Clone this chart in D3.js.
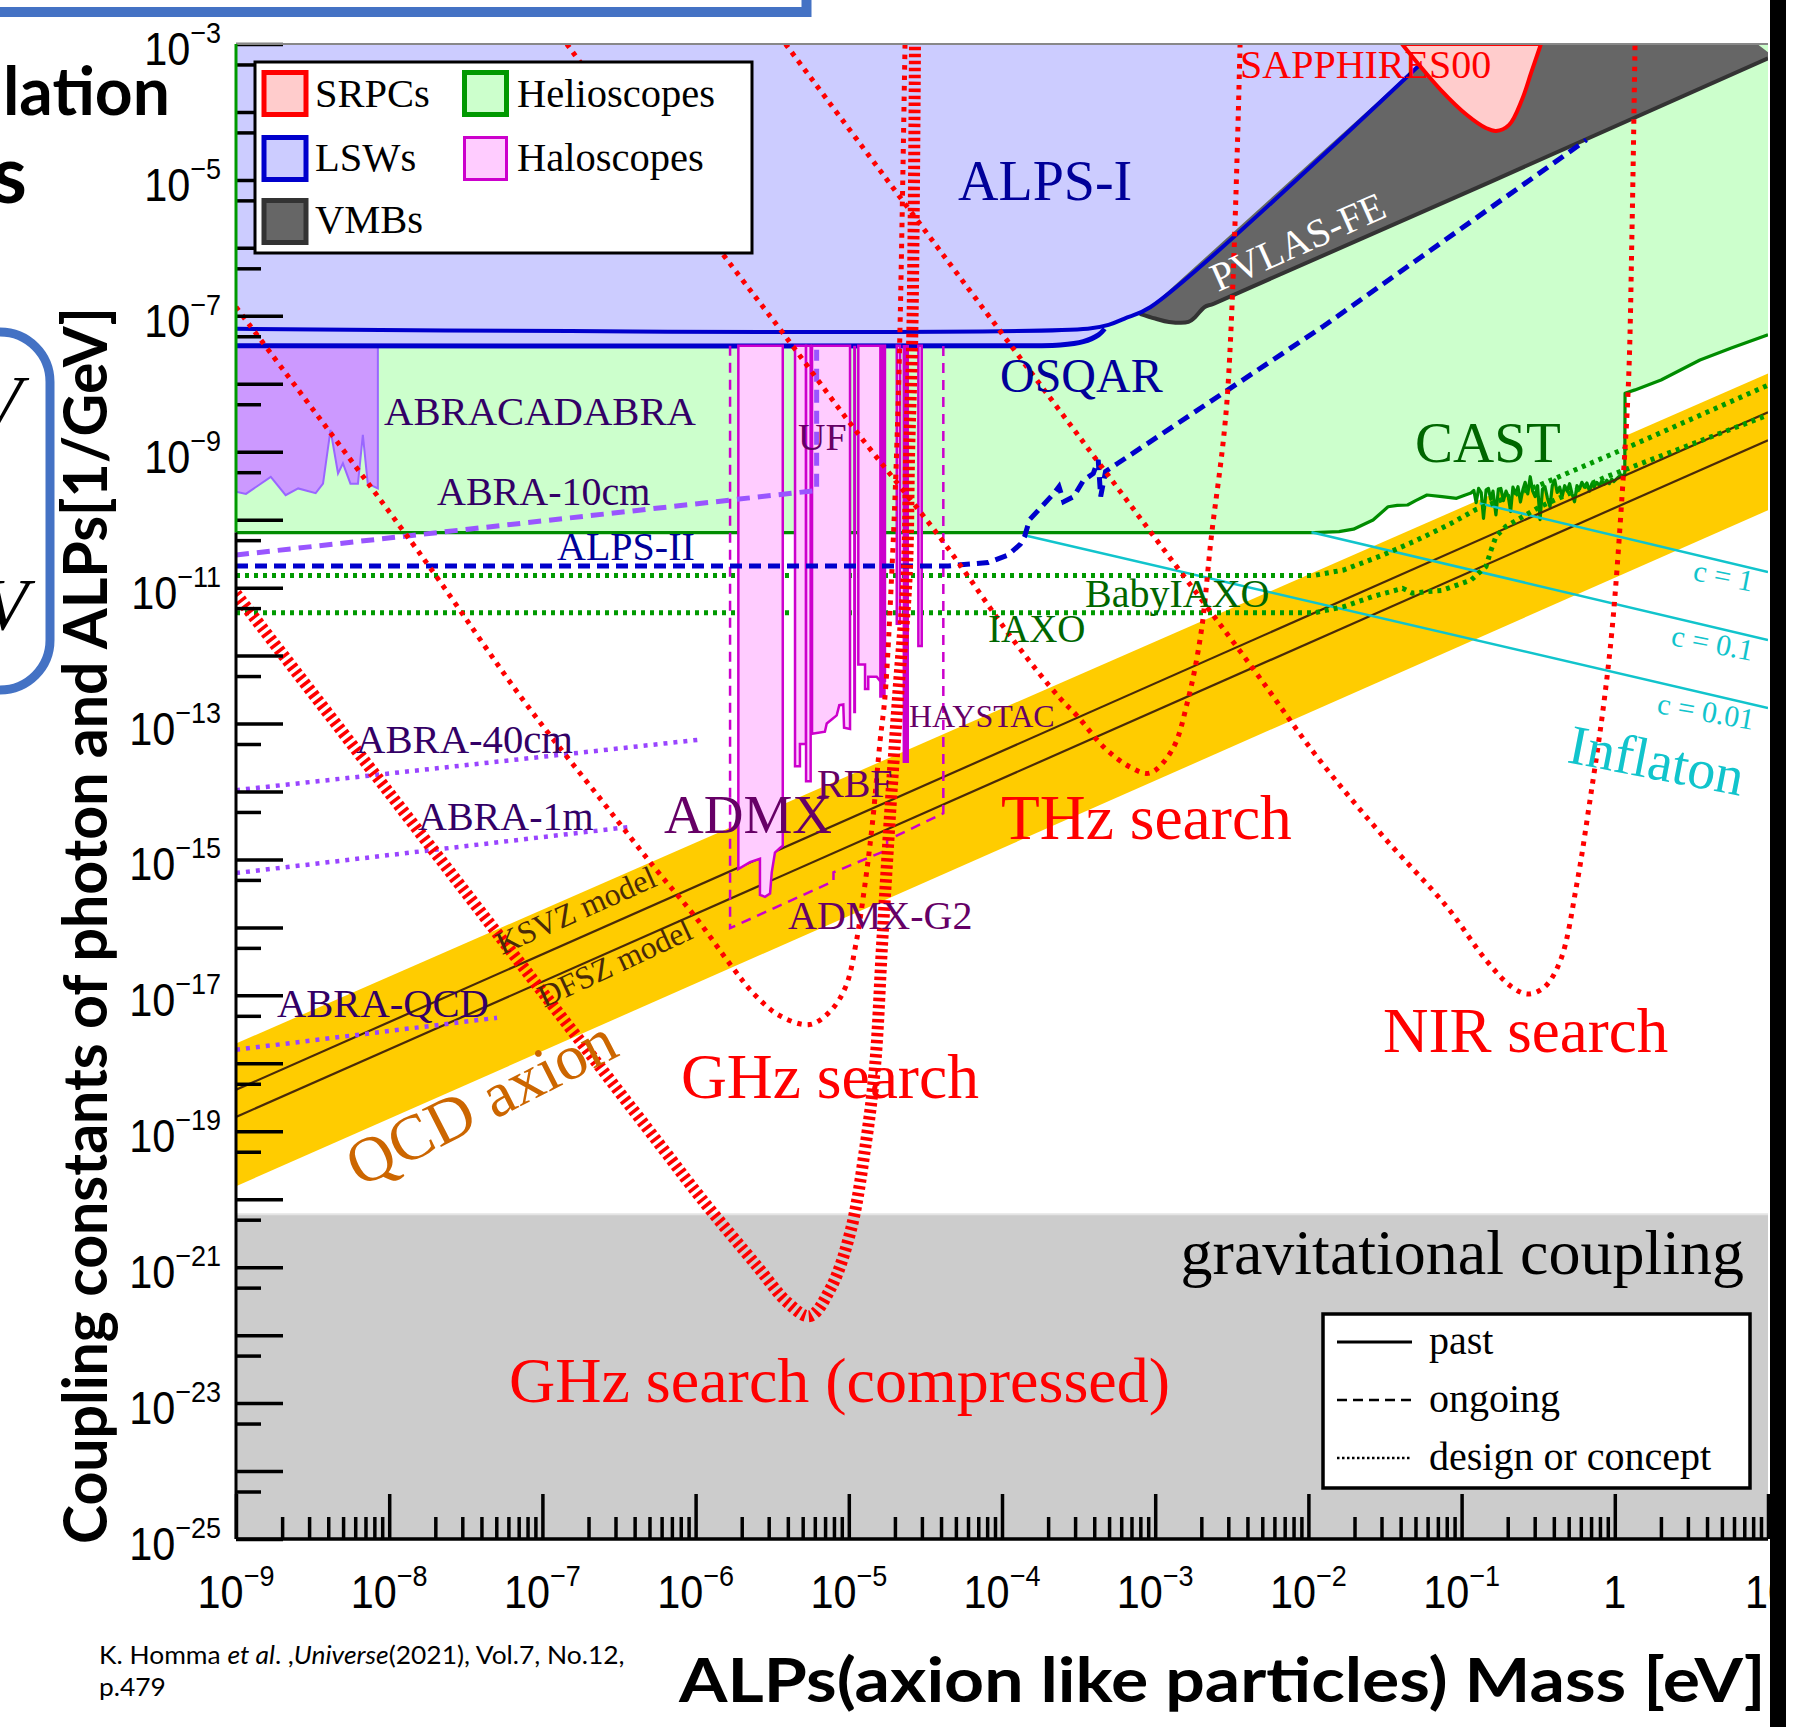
<!DOCTYPE html>
<html>
<head>
<meta charset="utf-8">
<script src="https://cdn.jsdelivr.net/npm/d3@7/dist/d3.min.js"></script>
<style>
html,body{margin:0;padding:0;background:#fff;}
svg{display:block;}
</style>
</head>
<body>
<svg id="chart" width="1815" height="1727" xmlns="http://www.w3.org/2000/svg"></svg>
<script>
// ================= DATA =================
// every point: [log10(mass / eV), log10(coupling / GeV^-1)]
const massDecades = [-9,-8,-7,-6,-5,-4,-3,-2,-1,0,1];
const xTickLabels = [["10","−9"],["10","−8"],["10","−7"],["10","−6"],["10","−5"],["10","−4"],["10","−3"],["10","−2"],["10","−1"],["1",""],["10",""]];
const couplingDecades = [-25,-24,-23,-22,-21,-20,-19,-18,-17,-16,-15,-14,-13,-12,-11,-10,-9,-8,-7,-6,-5,-4,-3];
const yTickLabelExps = [-3,-5,-7,-9,-11,-13,-15,-17,-19,-21,-23,-25];

const gravitationalCoupling = -20.22;

const qcdBandUpper = [[-9,-17.71],[1,-7.85]];
const qcdBandLower = [[-9,-19.81],[1,-9.86]];
const ksvzLine = [[-9,-18.39],[1,-8.42]];
const dfszLine = [[-9,-18.79],[1,-8.83]];

const lswRegion = [[-9,-3],[-1.13,-3],[-3.03,-6.87],[-3.20,-7.03],[-3.33,-7.14],[-3.40,-7.30],[-3.50,-7.40],[-3.82,-7.44],[-9,-7.44]];
const alpsILimit = [[-9,-7.19],[-3.44,-7.19],[-3.30,-7.13],[-3.20,-7.04],[-3.03,-6.87],[-1.13,-3.0]];
const osqarLimit = [[-9,-7.44],[-3.82,-7.44],[-3.62,-7.43],[-3.47,-7.38],[-3.37,-7.28],[-3.33,-7.19]];
const vmbRegion = [[-3.10,-6.97],[-3.03,-6.87],[-1.13,-3.0],[0.93,-3.0],[1.0,-3.12],[1.0,-3.21],[-2.616,-6.82],[-2.677,-6.87],[-2.74,-7.02],[-2.783,-7.09],[-2.91,-7.09],[-3.0,-7.04]];
const vmbEdge = [[-3.10,-6.97],[-3.0,-7.04],[-2.91,-7.09],[-2.783,-7.09],[-2.74,-7.02],[-2.677,-6.87],[-2.616,-6.82],[1.0,-3.21]];
const srpcRegion = [[-1.389,-3.0],[-1.304,-3.235],[-1.135,-3.677],[-0.965,-4.045],[-0.841,-4.236],[-0.775,-4.28],[-0.69,-4.19],[-0.606,-3.82],[-0.547,-3.43],[-0.482,-3.0]];

const castLimit = [[-9,-10.19],[-1.963,-10.19],[-1.80,-10.175],[-1.706,-10.14],[-1.578,-10.005],[-1.48,-9.81],[-1.42,-9.79],[-1.353,-9.784],[-1.30,-9.72],[-1.226,-9.637],[-1.128,-9.662],[-1.033,-9.686],[-0.98,-9.64],[-0.939,-9.608],
  [-0.92,-9.57],[-0.905,-9.75],[-0.889,-9.54],[-0.872,-9.60],[-0.857,-9.98],[-0.84,-9.56],[-0.825,-9.54],[-0.81,-9.70],[-0.795,-9.58],[-0.776,-9.93],[-0.76,-9.55],[-0.744,-9.54],[-0.727,-9.72],[-0.71,-9.58],[-0.695,-9.66],[-0.68,-9.88],[-0.665,-9.52],[-0.648,-9.62],[-0.632,-9.515],[-0.616,-9.74],[-0.60,-9.56],[-0.585,-9.45],[-0.568,-9.62],[-0.552,-9.368],[-0.536,-9.58],[-0.52,-9.66],[-0.504,-9.50],[-0.488,-10.0],[-0.472,-9.55],[-0.456,-9.515],[-0.44,-9.68],[-0.423,-9.81],[-0.408,-9.50],[-0.392,-9.416],[-0.376,-9.60],[-0.36,-9.52],[-0.344,-9.66],[-0.327,-9.50],[-0.311,-9.58],[-0.295,-9.47],[-0.279,-9.62],[-0.263,-9.736],[-0.247,-9.50],[-0.23,-9.55],[-0.215,-9.45],[-0.199,-9.52],[-0.182,-9.46],[-0.165,-9.58],[-0.15,-9.47],[-0.135,-9.52],[-0.118,-9.45],[-0.10,-9.50],[-0.085,-9.43],[-0.07,-9.48],[-0.052,-9.42],[-0.035,-9.47],[-0.02,-9.40],[-0.007,-9.44],[0.02,-9.38],[0.04,-9.343],[0.065,-9.35],
  [0.067,-8.14],[0.132,-8.09],[0.302,-7.945],[0.556,-7.65],[0.765,-7.47],[1.0,-7.28]];

const abracadabraRegion = [[-9,-7.44],[-8.074,-7.44],[-8.074,-9.54],[-8.14,-9.47],[-8.172,-8.75],[-8.204,-9.47],[-8.253,-9.47],[-8.302,-9.17],[-8.334,-9.32],[-8.383,-8.68],[-8.432,-9.47],[-8.48,-9.61],[-8.594,-9.54],[-8.676,-9.64],[-8.773,-9.37],[-8.935,-9.62],[-9,-9.59]];

const admxRegion = [[-5.721,-7.44],[-5.431,-7.44],[-5.431,-14.80],[-5.449,-14.83],[-5.482,-14.90],[-5.503,-15.19],[-5.514,-15.50],[-5.547,-15.55],[-5.580,-15.52],[-5.580,-14.99],[-5.645,-15.04],[-5.721,-15.14]];
const ufRegion1 = [[-5.351,-7.44],[-5.279,-7.44],[-5.279,-13.30],[-5.319,-13.30],[-5.319,-13.63],[-5.351,-13.63]];
const ufRegion2 = [[-5.279,-7.44],[-5.249,-7.44],[-5.249,-13.85],[-5.279,-13.85]];
const rbfRegion = [[-5.24,-7.44],[-4.992,-7.44],[-4.992,-13.08],[-5.031,-13.06],[-5.036,-12.72],[-5.062,-12.73],[-5.079,-12.88],[-5.112,-12.94],[-5.144,-13.00],[-5.156,-13.12],[-5.24,-13.15]];
const haloRegion3 = [[-4.938,-7.44],[-4.764,-7.44],[-4.764,-12.37],[-4.797,-12.37],[-4.818,-12.31],[-4.873,-12.31],[-4.873,-12.49],[-4.894,-12.49],[-4.894,-12.13],[-4.938,-12.13]];
const haloThinLimit = [[-4.962,-7.44],[-4.962,-12.85]];
const haloBarsSolid = [[-4.797,-4.764,-12.61],[-4.644,-4.612,-13.57]];
const haloBarsOpen = [[-4.687,-4.666,-11.53],[-4.546,-4.524,-11.86]];
const admxG2Projection = [[-5.775,-7.44],[-5.775,-16.01],[-5.10,-15.32],[-5.10,-15.19],[-4.75,-14.86],[-4.75,-14.72],[-4.383,-14.32],[-4.383,-7.44]];

const alpsIIProjection = [[-9,-10.68],[-4.35,-10.68],[-4.09,-10.63],[-3.96,-10.52],[-3.88,-10.36],[-3.853,-10.25],[-3.82,-10.0],[-3.66,-9.61],[-3.628,-9.515],[-3.597,-9.735],[-3.532,-9.66],[-3.468,-9.42],[-3.404,-9.32],[-3.372,-9.12],[-3.356,-9.66],[-3.324,-9.29],[-3.244,-9.17],[-1.90,-7.15],[-0.185,-4.41]];
const babyIaxoProjection = [[-9,-10.82],[-1.96,-10.82],[-1.77,-10.74],[-1.513,-10.52],[-1.29,-10.30],[-1.065,-10.05],[-0.906,-9.85],[-0.5,-9.5],[0.09,-8.93],[1.0,-8.02]];
const iaxoProjection = [[-9,-11.37],[-1.96,-11.37],[-1.77,-11.28],[-1.578,-11.13],[-1.385,-11.01],[-1.321,-11.08],[-1.128,-11.04],[-0.939,-10.89],[-0.841,-10.69],[-0.808,-10.45],[-0.776,-10.25],[-0.712,-10.10],[-0.489,-9.81],[-0.057,-9.37],[1.0,-8.46]];

const abra10cmProjection = [[-9,-10.52],[-5.21,-9.57],[-5.21,-7.5]];
const abra40cmProjection = [[-9,-13.98],[-5.985,-13.24]];
const abra1mProjection = [[-9,-15.20],[-6.428,-14.52]];
const abraQcdProjection = [[-9,-17.80],[-7.296,-17.33]];

const inflatonC1 = [[-0.882,-9.76],[1.0,-10.77]];
const inflatonC01 = [[-1.980,-10.186],[1.0,-11.77]];
const inflatonC001 = [[-3.861,-10.226],[1.0,-12.77]];

const ghzSearch = [[-9,-6.87],[-7.783,-10.55],[-7.127,-12.65],[-6.614,-14.13],[-6.272,-15.11],[-6.0,-15.85],[-5.762,-16.58],[-5.619,-16.98],[-5.45,-17.30],[-5.256,-17.43],[-5.116,-17.22],[-5.018,-16.86],[-4.955,-16.26],[-4.894,-15.36],[-4.845,-14.45],[-4.796,-13.26],[-4.764,-12.61],[-4.720,-10.81],[-4.688,-9.01],[-4.666,-7.21],[-4.633,-3.0]];
const ghzCompressed = [[-9,-11.09],[-8.0,-14.02],[-7.0,-16.95],[-6.239,-19.18],[-5.966,-19.98],[-5.593,-21.0],[-5.40,-21.52],[-5.256,-21.72],[-5.116,-21.30],[-4.986,-20.45],[-4.894,-19.26],[-4.829,-18.05],[-4.783,-16.26],[-4.734,-14.45],[-4.68,-12.65],[-4.622,-10.81],[-4.606,-9.0],[-4.585,-7.21],[-4.568,-3.0]];
const thzSearch = [[-6.841,-3.0],[-5.818,-6.105],[-5.43,-7.253],[-4.973,-8.636],[-4.392,-10.30],[-3.917,-11.80],[-3.628,-12.61],[-3.504,-12.90],[-3.334,-13.35],[-3.164,-13.64],[-3.037,-13.73],[-2.890,-13.39],[-2.786,-12.65],[-2.701,-11.67],[-2.636,-10.30],[-2.531,-8.24],[-2.446,-3.0]];
const nirSearch = [[-5.413,-3.0],[-3.924,-7.49],[-3.037,-10.16],[-2.362,-12.19],[-1.94,-13.5],[-1.516,-14.65],[-1.095,-15.70],[-0.841,-16.48],[-0.67,-16.88],[-0.567,-16.98],[-0.46,-16.88],[-0.354,-16.48],[-0.247,-15.35],[-0.162,-14.13],[-0.08,-12.85],[-0.018,-11.62],[0.047,-9.66],[0.09,-7.94],[0.112,-5.78],[0.132,-3.0]];

const legendCategories = ["SRPCs","LSWs","VMBs","Helioscopes","Haloscopes"];
const lineStyleNames = ["past","ongoing","design or concept"];
const xAxisTitle = "ALPs(axion like particles) Mass [eV]";
const yAxisTitle = "Coupling constants of photon and ALPs[1/GeV]";

// ================= DRAWING =================
const svg = d3.select("#chart");
const X0 = 236, X1 = 1768, Y0 = 44, Y1 = 1539;
const x = d3.scaleLog().domain([1e-9, 10]).range([X0, X1]);
const y = d3.scaleLog().domain([1e-25, 1e-3]).range([Y1, Y0]);
const fx = d => x(Math.pow(10, d[0]));
const fy = d => y(Math.pow(10, d[1]));
const lin = d3.line().x(fx).y(fy);
const smooth = d3.line().x(fx).y(fy).curve(d3.curveCatmullRom.alpha(0.5));
const poly = pts => lin(pts) + "Z";
const SERIF = "Liberation Serif, Times New Roman, serif";
const SANS = "Liberation Sans, Arial, sans-serif";
const SLIDE = "Lato, Open Sans, sans-serif";

svg.append("rect").attr("width",1815).attr("height",1727).attr("fill","#fff");
svg.append("defs").append("clipPath").attr("id","plotClip")
  .append("rect").attr("x",X0).attr("y",Y0).attr("width",X1-X0).attr("height",Y1-Y0);
const plot = svg.append("g").attr("clip-path","url(#plotClip)");

// gravitational coupling band
const gy = y(Math.pow(10, gravitationalCoupling));
plot.append("rect").attr("x",X0).attr("y",gy).attr("width",X1-X0).attr("height",Y1-gy).attr("fill","#CCCCCC");
plot.append("line").attr("x1",X0).attr("x2",X1).attr("y1",gy).attr("y2",gy).attr("stroke","#E4E4E4").attr("stroke-width",2);

// QCD axion band
plot.append("path").attr("d", poly(qcdBandUpper.concat(qcdBandLower.slice().reverse()))).attr("fill","#FFCC00");

// Helioscope (CAST) region
plot.append("path").attr("d", poly([[-9,-3]].concat(castLimit, [[1,-3]]))).attr("fill","#CCFFCC");
plot.append("path").attr("d", lin(castLimit)).attr("fill","none").attr("stroke","#008C00").attr("stroke-width",3.2).attr("stroke-linejoin","round");

// ABRACADABRA
plot.append("path").attr("d", poly(abracadabraRegion)).attr("fill","#CC99FF").attr("stroke","#9966FF").attr("stroke-width",2);

// LSW / VMB
plot.append("path").attr("d", poly(lswRegion)).attr("fill","#CCCCFF");
plot.append("path").attr("d", poly(vmbRegion)).attr("fill","#666666");
plot.append("path").attr("d", smooth(vmbEdge)).attr("fill","none").attr("stroke","#333333").attr("stroke-width",4);
plot.append("path").attr("d", smooth(alpsILimit)).attr("fill","none").attr("stroke","#0000CC").attr("stroke-width",4);
plot.append("path").attr("d", smooth(osqarLimit)).attr("fill","none").attr("stroke","#0000CC").attr("stroke-width",5);

// SRPC
plot.append("path").attr("d", smooth(srpcRegion) + "Z")
  .attr("fill","#FFCCCC").attr("stroke","#FF0000").attr("stroke-width",4);

// QCD model lines
[ksvzLine, dfszLine].forEach(l => plot.append("path").attr("d", lin(l)).attr("fill","none").attr("stroke","#4a2a08").attr("stroke-width",2.2));

// inflaton lines
[inflatonC1, inflatonC01, inflatonC001].forEach(l => plot.append("path").attr("d", lin(l)).attr("fill","none").attr("stroke","#11C4CC").attr("stroke-width",2.5));

// IAXO projections
[babyIaxoProjection, iaxoProjection].forEach(l => plot.append("path").attr("d", lin(l)).attr("fill","none")
  .attr("stroke","#009900").attr("stroke-width",5).attr("stroke-dasharray","4,5"));

// Haloscopes
[admxRegion, ufRegion1, ufRegion2, rbfRegion, haloRegion3].forEach(r =>
  plot.append("path").attr("d", poly(r)).attr("fill","#FFCCFF").attr("stroke","#CC00CC").attr("stroke-width",2.5));
haloBarsOpen.forEach(b => plot.append("path").attr("d", poly([[b[0],-7.44],[b[1],-7.44],[b[1],b[2]],[b[0],b[2]]]))
  .attr("fill","#FFCCFF").attr("stroke","#CC00CC").attr("stroke-width",2.5));
haloBarsSolid.forEach(b => plot.append("path").attr("d", poly([[b[0],-7.44],[b[1],-7.44],[b[1],b[2]],[b[0],b[2]]]))
  .attr("fill","#CC00CC").attr("stroke","#CC00CC").attr("stroke-width",1.5));
plot.append("path").attr("d", lin(haloThinLimit)).attr("stroke","#CC00CC").attr("stroke-width",3);
plot.append("path").attr("d", lin(admxG2Projection)).attr("fill","none").attr("stroke","#CC00CC").attr("stroke-width",2.5).attr("stroke-dasharray","10,7");

// ABRA projections
plot.append("path").attr("d", lin(abra10cmProjection)).attr("fill","none").attr("stroke","#9955FF").attr("stroke-width",5).attr("stroke-dasharray","13,8");
[abra40cmProjection, abra1mProjection, abraQcdProjection].forEach(l => plot.append("path").attr("d", lin(l)).attr("fill","none")
  .attr("stroke","#9944FF").attr("stroke-width",4.5).attr("stroke-dasharray","4,6"));

// ALPS-II
plot.append("path").attr("d", lin(alpsIIProjection)).attr("fill","none").attr("stroke","#0000CC").attr("stroke-width",5).attr("stroke-dasharray","12,7");

// SRPC projections (red)
[ghzSearch, thzSearch, nirSearch].forEach(l => plot.append("path").attr("d", smooth(l)).attr("fill","none")
  .attr("stroke","#FF0000").attr("stroke-width",5).attr("stroke-dasharray","4.5,6"));
plot.append("path").attr("d", smooth(ghzCompressed)).attr("fill","none")
  .attr("stroke","#FF0000").attr("stroke-width",12).attr("stroke-dasharray","3.5,3.5");

// ---------- labels ----------
function label(t, lx, ly, size, color, opt) {
  opt = opt || {};
  const el = svg.append("text").attr("x",lx).attr("y",ly).attr("font-family", opt.family || SERIF)
    .attr("font-size",size).attr("fill",color).text(t);
  if (opt.anchor) el.attr("text-anchor", opt.anchor);
  if (opt.rotate != null) el.attr("transform", `rotate(${opt.rotate},${lx},${ly})`);
  return el;
}
label("ALPS-I", 958, 200, 56, "#000099");
label("OSQAR", 1000, 392, 48, "#000099");
label("ALPS-II", 557, 560, 40, "#000099");
label("PVLAS-FE", 1218, 292, 40, "#FFFFFF", {rotate:-24});
label("SAPPHIRES00", 1240, 78, 40, "#FF0000");
label("CAST", 1415, 462, 57, "#006600");
label("BabyIAXO", 1085, 607, 40, "#006600");
label("IAXO", 988, 642, 39, "#006600");
label("ABRACADABRA", 384, 425, 40.7, "#330066");
label("ABRA-10cm", 437, 505, 40, "#330066");
label("ABRA-40cm", 356, 753, 40.7, "#330066");
label("ABRA-1m", 418, 830, 40, "#330066");
label("ABRA-QCD", 277, 1017, 40.6, "#330066");
label("UF", 798, 450, 38, "#660066");
label("ADMX", 664, 833, 55, "#660066");
label("RBF", 817, 797, 40, "#660066");
label("HAYSTAC", 909, 727, 32, "#660066");
label("ADMX-G2", 788, 929, 40, "#660066");
label("THz search", 1001, 839, 63.5, "#FF0000");
label("GHz search", 681, 1098, 63.5, "#FF0000");
label("NIR search", 1383, 1052, 63, "#FF0000");
label("GHz search (compressed)", 509, 1402, 64, "#FF0000");
label("gravitational coupling", 1744, 1274, 64, "#000000", {anchor:"end"});
label("Inflaton", 1566, 762, 56, "#11C4CC", {rotate:11});
label("c = 1", 1692, 580, 30, "#11C4CC", {rotate:11});
label("c = 0.1", 1670, 645, 30, "#11C4CC", {rotate:11});
label("c = 0.01", 1656, 713, 30, "#11C4CC", {rotate:10});
label("KSVZ model", 502, 955, 32, "#4a2a08", {rotate:-24});
label("DFSZ model", 544, 1008, 32, "#4a2a08", {rotate:-25});
label("QCD axion", 360, 1188, 64, "#CC6600", {rotate:-27});

// ---------- axes ----------
const xMinor = [];
massDecades.slice(0,-1).forEach(e => { for (let j = 2; j <= 9; j++) xMinor.push(j * Math.pow(10, e)); });
const yMinor = couplingDecades.slice(0,-1).map(e => 5 * Math.pow(10, e));
function styleAxis(g){ g.select(".domain").remove(); g.selectAll("line").attr("stroke","#000").attr("stroke-width",3.5); }
svg.append("g").attr("transform",`translate(0,${Y1})`)
  .call(d3.axisBottom(x).tickValues(massDecades.map(e=>Math.pow(10,e))).tickSize(-45).tickFormat("")).call(styleAxis);
svg.append("g").attr("transform",`translate(0,${Y1})`)
  .call(d3.axisBottom(x).tickValues(xMinor).tickSize(-22).tickFormat("")).call(styleAxis);
svg.append("g").attr("transform",`translate(${X0},0)`)
  .call(d3.axisLeft(y).tickValues(couplingDecades.map(e=>Math.pow(10,e))).tickSize(-47).tickFormat("")).call(styleAxis);
svg.append("g").attr("transform",`translate(${X0},0)`)
  .call(d3.axisLeft(y).tickValues(yMinor).tickSize(-25).tickFormat("")).call(styleAxis);
// frame
svg.append("line").attr("x1",X0).attr("x2",X1).attr("y1",Y1).attr("y2",Y1).attr("stroke","#000").attr("stroke-width",3.5);
svg.append("line").attr("x1",X0).attr("x2",X1).attr("y1",Y0).attr("y2",Y0).attr("stroke","#888").attr("stroke-width",2);
const castY = fy(castLimit[0]);
svg.append("line").attr("x1",X0).attr("x2",X0).attr("y1",Y0).attr("y2",castY).attr("stroke","#009900").attr("stroke-width",3);
svg.append("line").attr("x1",X0).attr("x2",X0).attr("y1",castY).attr("y2",Y1).attr("stroke","#000").attr("stroke-width",3);

// tick labels
massDecades.forEach((e,i) => {
  const g = svg.append("g").attr("transform",`translate(${x(Math.pow(10,e))},1608) scale(0.9,1)`);
  const t = g.append("text").attr("text-anchor","middle").attr("font-family",SANS).attr("font-size",46).attr("fill","#000");
  t.append("tspan").text(xTickLabels[i][0]);
  if (xTickLabels[i][1]) t.append("tspan").attr("dy",-22).attr("font-size",30).text(xTickLabels[i][1]);
});
yTickLabelExps.forEach(e => {
  const g = svg.append("g").attr("transform",`translate(221,${y(Math.pow(10,e)) + 21}) scale(0.9,1)`);
  const t = g.append("text").attr("text-anchor","end").attr("font-family",SANS).attr("font-size",46).attr("fill","#000");
  t.append("tspan").text("10");
  t.append("tspan").attr("dy",-22).attr("font-size",30).text("−" + Math.abs(e));
});

// ---------- legend 1 ----------
const lg1 = svg.append("g");
lg1.append("rect").attr("x",255).attr("y",62).attr("width",497).attr("height",191).attr("fill","#fff").attr("stroke","#000").attr("stroke-width",3);
const swFill = ["#FFCCCC","#CCCCFF","#666666","#CCFFCC","#FFCCFF"];
const swStroke = ["#FF0000","#0000CC","#333333","#009900","#CC00CC"];
const swX = [264,264,264,464.5,464.5];
const swY = [72.5,137.5,200.5,72.5,137.5];
const txX = [315,315,315,517,517];
const txY = [107,171,233,107,171];
legendCategories.forEach((c,i) => {
  lg1.append("rect").attr("x",swX[i]).attr("y",swY[i]).attr("width",42).attr("height",42)
    .attr("fill",swFill[i]).attr("stroke",swStroke[i]).attr("stroke-width", i===4 ? 3 : 5);
  lg1.append("text").attr("x",txX[i]).attr("y",txY[i]).attr("font-family",SERIF).attr("font-size",40.5).attr("fill","#000").text(c);
});

// ---------- legend 2 ----------
const lg2 = svg.append("g");
lg2.append("rect").attr("x",1323).attr("y",1314).attr("width",427).attr("height",174).attr("fill","#fff").attr("stroke","#000").attr("stroke-width",3.5);
const dashes = [null, "10,6", "2.5,2.5"];
const rowY = [1342,1400,1458];
lineStyleNames.forEach((n,i) => {
  const l = lg2.append("line").attr("x1",1337).attr("x2",1412).attr("y1",rowY[i]).attr("y2",rowY[i]).attr("stroke","#000").attr("stroke-width",i===0?3:2.5);
  if (dashes[i]) l.attr("stroke-dasharray",dashes[i]);
  lg2.append("text").attr("x",1429).attr("y",rowY[i]+12).attr("font-family",SERIF).attr("font-size",40).attr("fill","#000").text(n);
});

// ---------- axis titles ----------
function fitted(parentTransform, str, size, target, weight) {
  const g = svg.append("g");
  const t = g.append("text").attr("x",0).attr("y",0).attr("font-family",SLIDE).attr("font-weight",weight).attr("font-size",size).attr("fill","#000").text(str);
  const k = target / t.node().getComputedTextLength();
  g.attr("transform", parentTransform + ` scale(${k},1)`);
  return t;
}
fitted("translate(679,1702)", xAxisTitle, 61, 1087, 700);
fitted("translate(107,1544) rotate(-90)", yAxisTitle, 61, 1237, 700);

// citation
(function(){
  const g = svg.append("g");
  const t = g.append("text").attr("x",0).attr("y",0).attr("font-family",SLIDE).attr("font-size",25).attr("fill","#000");
  t.append("tspan").text("K. Homma ");
  t.append("tspan").attr("font-style","italic").text("et al");
  t.append("tspan").text(". ,");
  t.append("tspan").attr("font-style","italic").text("Universe");
  t.append("tspan").text("(2021), Vol.7, No.12,");
  const k = 526 / t.node().getComputedTextLength();
  g.attr("transform",`translate(99,1664) scale(${k},1)`);
  const g2 = svg.append("g").attr("transform",`translate(99,1696) scale(${k},1)`);
  g2.append("text").attr("font-family",SLIDE).attr("font-size",25).attr("fill","#000").text("p.479");
})();

// ---------- slide decorations ----------
svg.append("rect").attr("x",1770).attr("y",0).attr("width",16).attr("height",1727).attr("fill","#000");
svg.append("rect").attr("x",1786).attr("y",0).attr("width",29).attr("height",1727).attr("fill","#fff");
svg.append("rect").attr("x",-60).attr("y",-60).attr("width",866.5).attr("height",72).attr("fill","none").attr("stroke","#4472C4").attr("stroke-width",10);
svg.append("rect").attr("x",-150).attr("y",332).attr("width",200).attr("height",358).attr("rx",50).attr("fill","none").attr("stroke","#4472C4").attr("stroke-width",9);
svg.append("text").attr("x",170).attr("y",115).attr("text-anchor","end").attr("font-family",SLIDE).attr("font-weight",700).attr("font-size",66).attr("fill","#000").text("lation");
svg.append("text").attr("x",27).attr("y",203).attr("text-anchor","end").attr("font-family",SLIDE).attr("font-weight",700).attr("font-size",80).attr("fill","#000").text("s");
svg.append("text").attr("x",22).attr("y",427).attr("text-anchor","end").attr("font-family",SERIF).attr("font-style","italic").attr("font-size",75).attr("fill","#000").text("V");
svg.append("text").attr("x",28).attr("y",630).attr("text-anchor","end").attr("font-family",SERIF).attr("font-style","italic").attr("font-size",75).attr("fill","#000").text("V");
</script>
</body>
</html>
